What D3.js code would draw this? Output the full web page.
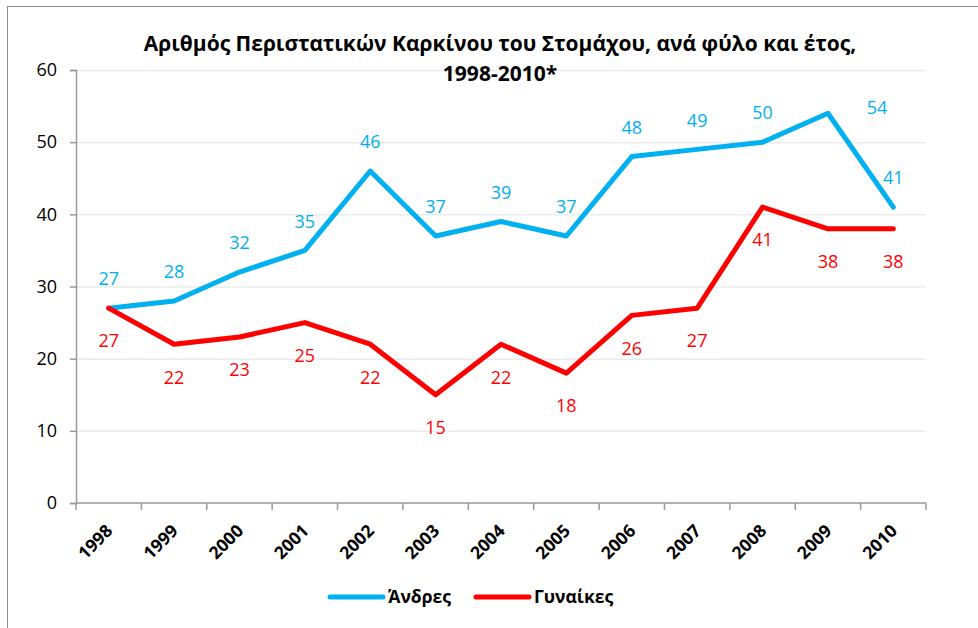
<!DOCTYPE html>
<html>
<head>
<meta charset="utf-8">
<script src="https://cdn.jsdelivr.net/npm/d3@7"></script>
<style>
  body { margin: 0; background: #fff; }
  svg { display: block; font-family: "Open Sans", "Noto Sans", sans-serif; }
</style>
</head>
<body>
<div id="chart"></div>
<script>
// data
const years = ['1998', '1999', '2000', '2001', '2002', '2003', '2004', '2005', '2006', '2007', '2008', '2009', '2010'];
const men = [27, 28, 32, 35, 46, 37, 39, 37, 48, 49, 50, 54, 41];
const women = [27, 22, 23, 25, 22, 15, 22, 18, 26, 27, 41, 38, 38];
const yTicks = [0, 10, 20, 30, 40, 50, 60];
const titleLines = ['Αριθμός Περιστατικών Καρκίνου του Στομάχου, ανά φύλο και έτος,', '1998-2010*'];

const series = [
  { name: 'Άνδρες', values: men, color: '#00b0f0', side: 'above' },
  { name: 'Γυναίκες', values: women, color: '#ff0000', side: 'below' }
];

const W = 978, H = 628;
const margin = { top: 70, right: 52, bottom: 125, left: 76 };

const svg = d3.select('#chart').append('svg')
  .attr('width', W).attr('height', H);

// outer frame (runs past the right/bottom edges)
svg.append('rect')
  .attr('x', 7.5).attr('y', 6.5)
  .attr('width', 1200).attr('height', 1200)
  .attr('fill', 'none').attr('stroke', '#8c8c8c').attr('stroke-width', 1);

const x = d3.scaleBand().domain(years)
  .range([margin.left, W - margin.right]);
const y = d3.scaleLinear().domain([0, 60])
  .range([H - margin.bottom, margin.top]);

// gridlines
svg.append('g')
  .selectAll('line')
  .data(yTicks.filter(t => t > 0))
  .join('line')
  .attr('x1', margin.left).attr('x2', W - margin.right)
  .attr('y1', d => y(d) + 0.5).attr('y2', d => y(d) + 0.5)
  .attr('stroke', '#ebebeb').attr('stroke-width', 1.5);

// title (on top of the 60 gridline)
svg.append('text')
  .attr('x', 500).attr('y', 51)
  .attr('text-anchor', 'middle')
  .attr('font-size', 21).attr('font-weight', 'bold')
  .attr('fill', '#000')
  .selectAll('tspan')
  .data(titleLines)
  .join('tspan')
  .attr('x', 500)
  .attr('dy', (d, i) => i === 0 ? 0 : 30)
  .text(d => d);

// y axis
svg.append('g')
  .attr('transform', `translate(${margin.left}, 0)`)
  .call(d3.axisLeft(y).tickValues(yTicks).tickSize(6).tickPadding(13))
  .call(g => {
    g.select('.domain').attr('stroke', '#999').attr('stroke-width', 1.5);
    g.selectAll('line').attr('stroke', '#999').attr('stroke-width', 1.5);
    g.selectAll('text').attr('fill', '#000').attr('font-size', 18)
      .attr('font-family', '"Open Sans", sans-serif');
  });

// x axis: ticks on category boundaries
const xAxisY = y(0);
const xg = svg.append('g').attr('transform', `translate(0, ${xAxisY})`);
xg.append('line')
  .attr('x1', margin.left).attr('x2', W - margin.right)
  .attr('y1', 0).attr('y2', 0)
  .attr('stroke', '#999').attr('stroke-width', 1.5);
const boundaries = years.map(d => x(d)).concat([x(years[years.length - 1]) + x.bandwidth()]);
xg.selectAll('.tk')
  .data(boundaries)
  .join('line')
  .attr('class', 'tk')
  .attr('x1', d => d).attr('x2', d => d)
  .attr('y1', 0).attr('y2', 7)
  .attr('stroke', '#999').attr('stroke-width', 1.5);
xg.selectAll('.lbl')
  .data(years)
  .join('text')
  .attr('class', 'lbl')
  .attr('transform', d => `translate(${x(d) + x.bandwidth() / 2 + 5}, 29) rotate(-45)`)
  .attr('text-anchor', 'end')
  .attr('font-size', 17.5).attr('font-weight', 'bold')
  .attr('fill', '#000')
  .text(d => d);

// lines
const cx = i => x(years[i]) + x.bandwidth() / 2;
const line = d3.line()
  .x((d, i) => cx(i))
  .y(d => y(d));

series.forEach(s => {
  svg.append('path')
    .datum(s.values)
    .attr('d', line)
    .attr('fill', 'none')
    .attr('stroke', s.color)
    .attr('stroke-width', 5)
    .attr('stroke-linejoin', 'round')
    .attr('stroke-linecap', 'round');
});

// data labels (men above, women below; the 2009 men label sits to the right)
series.forEach(s => {
  svg.append('g')
    .selectAll('text')
    .data(s.values)
    .join('text')
    .attr('x', (d, i) => (s.side === 'above' && i === 11) ? cx(i) + 49 : cx(i))
    .attr('y', (d, i) => {
      if (s.side === 'above' && i === 11) return y(d) - 6;
      return s.side === 'above' ? y(d) - 29 : y(d) + 33;
    })
    .attr('dy', '0.35em')
    .attr('text-anchor', 'middle')
    .attr('font-size', 18)
    .attr('fill', s.color)
    .text(d => d);
});

// legend
const legend = svg.append('g').attr('transform', 'translate(0, 597)');
const legendX = [330, 476];
series.forEach((s, i) => {
  legend.append('line')
    .attr('x1', legendX[i]).attr('x2', legendX[i] + 53)
    .attr('y1', 0).attr('y2', 0)
    .attr('stroke', s.color).attr('stroke-width', 5)
    .attr('stroke-linecap', 'round');
  legend.append('text')
    .attr('x', legendX[i] + 58).attr('y', 0)
    .attr('dy', '0.35em')
    .attr('font-size', 17.5).attr('font-weight', 'bold')
    .attr('fill', '#000')
    .text(s.name);
});
</script>
</body>
</html>
